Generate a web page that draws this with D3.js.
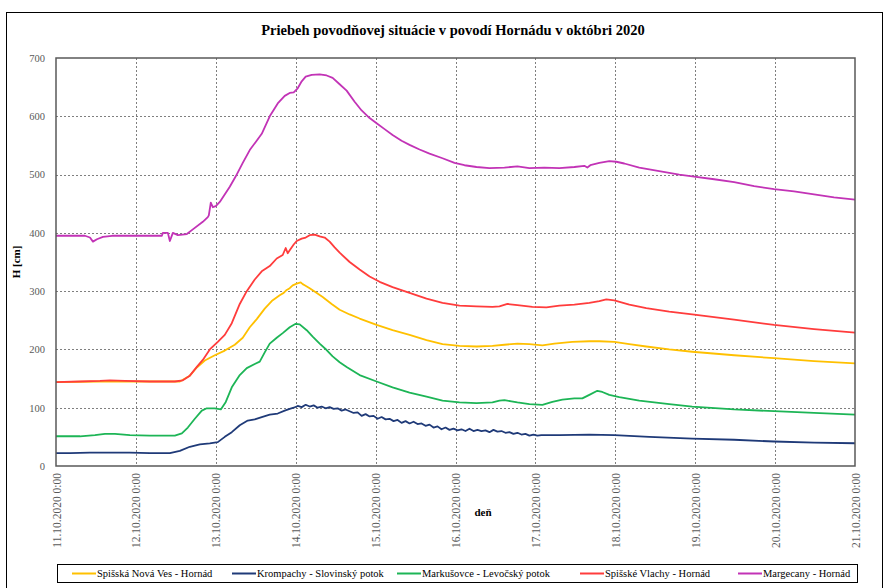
<!DOCTYPE html>
<html>
<head>
<meta charset="utf-8">
<script src="https://cdn.jsdelivr.net/npm/d3@7"></script>
<style>
  html, body { margin: 0; padding: 0; background: #fff; }
  svg { display: block; }
</style>
</head>
<body>
<svg id="chart" width="885" height="588"></svg>
<script>
// Water levels H [cm]; each pair is [hours since 11.10.2020 0:00, level]
const spisskaNovaVes = [
  [0,144],[13.2,145],[37.2,145],[40.2,155],[42.3,169],[44.7,181],[47.7,190],[50.7,198],
  [53.7,208],[56.1,220],[58.2,238],[60.3,252],[62.7,270],[64.8,283],[67.2,293],[68.4,297],
  [69.3,302],[70.2,305],[71.1,310],[72.3,313],[73.5,315],[74.1,312],[74.7,310],[76.2,305],
  [78,298],[80.1,290],[82.8,278],[85.2,268],[88.2,260],[91.2,253],[96.3,242],[101.1,233],
  [106.2,225],[111.3,216],[116.1,209],[121.2,206],[126.3,205],[131.1,206],[134.7,208],
  [138.6,210],[142.2,209],[146.1,207],[149.7,210],[155.1,213],[160.2,214],[163.2,214],
  [167.7,213],[172.2,209],[177.3,205],[184.2,200],[191.1,196],[203.7,190],[215.7,185],
  [227.7,180],[240,176]
];
const krompachy = [
  [0,22],[4.2,22],[10.2,23],[16.2,23],[22.2,23],[28.2,22],[34.2,22],[37.2,26],[40.2,33],
  [43.2,37],[46.2,39],[48.6,41],[50.7,50],[52.8,58],[55.2,70],[57.6,78],[59.7,80],[61.8,84],
  [64.2,88],[66.6,90],[68.7,95],
  [70.2,98],[71.4,100],[72.6,103],[73.8,101],[75,105],[76.2,102],[77.4,104],[78.6,100],
  [79.8,102],[81,99],[82.2,101],[83.4,98],[84.6,99],[85.8,95],[87,97],[88.2,94],[89.4,91],
  [90.6,92],[91.8,86],[93,89],[94.2,85],[95.4,86],[96.6,81],[97.8,84],[99,80],[100.2,81],
  [101.4,77],[102.6,79],[103.8,74],[105,77],[106.2,73],[107.4,76],[108.6,72],[109.8,73],
  [111,69],[112.2,71],[113.4,66],[114.6,68],[115.8,63],[117,66],[118.2,62],[119.4,64],
  [120.6,61],[121.8,63],[123,60],[124.2,64],[125.4,60],[126.6,62],[127.8,60],[129,61],
  [130.2,58],[131.4,62],[132.6,59],[133.8,60],[135,57],[136.2,58],[137.4,55],[138.6,57],
  [139.8,54],[141,55],[142.2,52],[143.4,54],[144.6,52],[145.8,53],
  [151.2,53],[160.2,54],[167.7,53],[178.2,50],[191.1,47],[203.7,45],[215.7,42],
  [227.7,40],[240,39]
];
const markusovce = [
  [0,51],[7.2,51],[11.7,53],[14.7,55],[17.7,55],[22.2,53],[28.2,52],[35.7,52],[37.8,56],
  [39.6,66],[41.7,81],[43.8,95],[45.3,99],[47.7,99],[49.5,97],[51,110],[52.8,135],
  [55.2,156],[57.3,168],[59.7,175],[61.2,179],[62.7,195],[64.2,210],[66.3,220],[68.1,228],
  [70.2,238],[72,244],[73.2,243],[75.3,233],[77.1,222],[79.2,210],[81.3,199],[83.1,188],
  [85.2,178],[87.3,170],[91.2,156],[96.3,145],[101.1,135],[106.2,126],[111.3,119],
  [116.1,112],[121.2,109],[126.3,108],[131.1,109],[133.2,112],[134.7,113],[136.8,111],
  [138.6,109],[142.2,106],[146.1,105],[149.1,110],[152.1,114],[155.7,116],[158.1,116],
  [160.2,122],[162.6,129],[164.1,127],[166.2,122],[169.2,118],[175.2,112],[184.2,106],
  [191.1,102],[203.7,97],[215.7,94],[227.7,91],[240,88]
];
const spisskeVlachy = [
  [0,144],[7.2,145],[13.2,146],[16.2,147],[20.7,146],[28.2,145],[35.7,145],[38.1,147],
  [40.2,155],[42.3,170],[44.1,182],[46.2,200],[48.6,213],[50.7,225],[52.8,245],[55.2,278],
  [57.3,300],[59.7,320],[61.8,334],[64.2,343],[66.3,356],[68.1,362],[69,374],[69.6,365],
  [70.2,370],[71.4,380],[72.3,386],[73.8,390],[75,392],[76.2,396],[77.7,397],[79.2,394],
  [80.7,392],[82.2,385],[83.7,375],[85.2,366],[88.2,350],[91.2,337],[94.2,325],[97.2,316],
  [101.1,307],[106.2,297],[111.3,287],[116.1,280],[121.2,275],[126.3,274],[131.1,273],
  [133.2,274],[135.6,278],[138.6,276],[143.1,273],[147.3,272],[151.2,275],[155.7,277],
  [160.2,280],[163.2,283],[165.3,286],[167.7,284],[172.2,277],[177.3,271],[184.2,265],
  [191.1,260],[203.7,251],[215.7,242],[227.7,235],[240,229]
];
const margecany = [
  [0,395],[8.7,395],[10.2,392],[11.1,385],[12.3,389],[14.1,393],[16.8,395],[25.2,395],
  [31.8,395],[32.1,400],[33.6,400],[34.2,386],[35.1,400],[36.6,396],[39.3,398],[41.1,406],
  [44.1,419],[45.6,427],[45.9,430],[46.5,452],[47.1,444],[48,446],[49.2,453],[52.2,479],
  [54,497],[56.1,520],[58.2,542],[60,556],[61.8,570],[64.2,600],[66.6,622],[68.7,635],
  [70.2,640],[71.4,641],[72.6,648],[73.8,660],[75,668],[76.8,671],[79.2,672],[81.3,670],
  [83.1,666],[85.2,655],[87.3,644],[89.7,625],[91.8,610],[94.2,597],[96.3,588],[98.7,578],
  [101.1,568],[103.8,558],[106.2,551],[109.2,543],[112.2,536],[116.1,528],[119.7,520],
  [122.7,516],[126.3,513],[130.2,511],[134.7,512],[138.6,514],[142.2,511],[146.7,512],
  [151.2,511],[155.7,513],[158.7,515],[159.6,512],[160.5,516],[163.2,520],[166.2,523],
  [168.3,522],[170.7,519],[175.2,512],[181.2,506],[187.2,500],[191.1,497],[197.7,492],
  [203.7,487],[209.7,480],[215.7,475],[221.7,471],[227.7,466],[233.7,461],[240,457]
];

const seriesNames = [
  "Spišská Nová Ves - Hornád",
  "Krompachy - Slovinský potok",
  "Markušovce - Levočský potok",
  "Spišské Vlachy - Hornád",
  "Margecany - Hornád"
];
const seriesColors = ["#FFC000", "#1F3A78", "#1DB556", "#FF3C3C", "#C233B6"];
const seriesData = [spisskaNovaVes, krompachy, markusovce, spisskeVlachy, margecany];

const yTicks = [0, 100, 200, 300, 400, 500, 600, 700];
const dayTicks = [11, 12, 13, 14, 15, 16, 17, 18, 19, 20, 21];

const titleText = "Priebeh povodňovej situácie v povodí Hornádu v októbri 2020";
const xTitle = "deň";
const yTitle = "H [cm]";

// ---- drawing ----
const svg = d3.select("#chart");
const start = new Date(2020, 9, 11, 0, 0);
const toDate = h => new Date(start.getTime() + h * 3600 * 1000);
const serif = "'Liberation Serif', 'Times New Roman', serif";

const plot = { left: 56, right: 855, top: 58, bottom: 466 };

const x = d3.scaleTime()
  .domain([new Date(2020, 9, 11), new Date(2020, 9, 21)])
  .range([plot.left, plot.right]);
const y = d3.scaleLinear().domain([0, 700]).range([plot.bottom, plot.top]);

// outer chart frame
svg.append("rect")
  .attr("x", 6.5).attr("y", 12.5)
  .attr("width", 876).attr("height", 620)
  .attr("fill", "#fff").attr("stroke", "#000").attr("stroke-width", 1);

// title
svg.append("text")
  .attr("x", 453).attr("y", 35)
  .attr("text-anchor", "middle")
  .attr("font-family", serif)
  .attr("font-weight", "bold").attr("font-size", 14.5)
  .attr("fill", "#000")
  .text(titleText);

// horizontal grid
svg.append("g")
  .selectAll("line")
  .data(yTicks.filter(v => v > 0 && v < 700))
  .join("line")
  .attr("x1", plot.left).attr("x2", plot.right)
  .attr("y1", d => Math.round(y(d)) + 0.5).attr("y2", d => Math.round(y(d)) + 0.5)
  .attr("stroke", "#7f7f7f").attr("stroke-width", 1)
  .attr("stroke-dasharray", "2,2");

// vertical grid
const dayDates = dayTicks.map(d => new Date(2020, 9, d));
svg.append("g")
  .selectAll("line")
  .data(dayDates.slice(1, -1))
  .join("line")
  .attr("x1", d => Math.round(x(d)) + 0.5).attr("x2", d => Math.round(x(d)) + 0.5)
  .attr("y1", plot.top).attr("y2", plot.bottom)
  .attr("stroke", "#7f7f7f").attr("stroke-width", 1)
  .attr("stroke-dasharray", "2,2");

// y axis labels
const yAxis = d3.axisLeft(y).tickValues(yTicks).tickSize(0).tickPadding(11);
const gy = svg.append("g").attr("transform", `translate(${plot.left},0)`).call(yAxis);
gy.select(".domain").remove();
gy.selectAll("text")
  .attr("font-family", serif)
  .attr("font-size", 10.5).attr("fill", "#595959");

// x axis labels (rotated)
const fmt = d => `${d.getDate()}.${d.getMonth() + 1}.${d.getFullYear()} 0:00`;
const xAxis = d3.axisBottom(x).tickValues(dayDates).tickFormat(fmt).tickSize(0);
const gx = svg.append("g").attr("transform", `translate(0,${plot.bottom})`).call(xAxis);
gx.select(".domain").remove();
gx.selectAll("text")
  .attr("font-family", serif)
  .attr("font-size", 11.5).attr("fill", "#595959")
  .attr("text-anchor", "end")
  .attr("transform", "translate(0,7) rotate(-90)")
  .attr("x", 0).attr("y", 0).attr("dy", "0.35em");

// axis titles
svg.append("text")
  .attr("x", 483).attr("y", 516)
  .attr("text-anchor", "middle")
  .attr("font-family", serif)
  .attr("font-weight", "bold").attr("font-size", 11)
  .attr("fill", "#000")
  .text(xTitle);
svg.append("text")
  .attr("transform", "translate(20,262) rotate(-90)")
  .attr("text-anchor", "middle")
  .attr("font-family", serif)
  .attr("font-weight", "bold").attr("font-size", 11)
  .attr("fill", "#000")
  .text(yTitle);

// series lines
const line = d3.line()
  .x(d => x(toDate(d[0])))
  .y(d => y(d[1]));
svg.append("g")
  .selectAll("path")
  .data(seriesData)
  .join("path")
  .attr("d", d => line(d))
  .attr("fill", "none")
  .attr("stroke", (d, i) => seriesColors[i])
  .attr("stroke-width", 1.8)
  .attr("stroke-linejoin", "round");

// plot border
svg.append("rect")
  .attr("x", plot.left).attr("y", plot.top)
  .attr("width", plot.right - plot.left).attr("height", plot.bottom - plot.top)
  .attr("fill", "none").attr("stroke", "#595959").attr("stroke-width", 1.5);

// legend
const legend = svg.append("g");
legend.append("rect")
  .attr("x", 57.5).attr("y", 564.5).attr("width", 800).attr("height", 18)
  .attr("fill", "#fff").attr("stroke", "#000").attr("stroke-width", 1);
const legendX = [72, 232, 397, 580, 738];
const items = legend.selectAll("g.item")
  .data(seriesNames)
  .join("g")
  .attr("class", "item")
  .attr("transform", (d, i) => `translate(${legendX[i]},573.5)`);
items.append("line")
  .attr("x1", 0).attr("x2", 24).attr("y1", 0).attr("y2", 0)
  .attr("stroke", (d, i) => seriesColors[i]).attr("stroke-width", 2);
items.append("text")
  .attr("x", 25).attr("y", 0).attr("dy", "0.35em")
  .attr("font-family", serif)
  .attr("font-size", 10.5).attr("fill", "#000")
  .text(d => d);
</script>
</body>
</html>
